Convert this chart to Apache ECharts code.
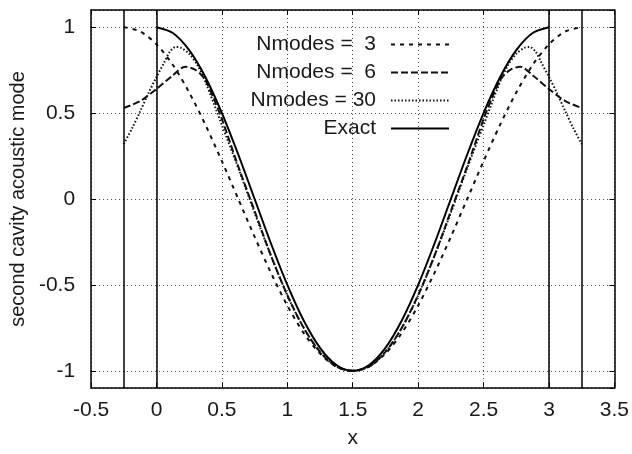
<!DOCTYPE html>
<html>
<head>
<meta charset="utf-8">
<script src="https://cdn.jsdelivr.net/npm/echarts@6/dist/echarts.min.js"></script>
<style>
  html, body { margin: 0; padding: 0; background: #fff; }
  #chart { width: 632px; height: 454px; }
</style>
</head>
<body>
<div id="chart"></div>
<script>
// values
const exactX = [0, 0.125, 0.25, 0.375, 0.5, 0.625, 0.75, 0.875, 1, 1.125, 1.25, 1.375, 1.5,
  1.625, 1.75, 1.875, 2, 2.125, 2.25, 2.375, 2.5, 2.625, 2.75, 2.875, 3]
const exactY = [1, 0.966, 0.866, 0.707, 0.5, 0.259, 0, -0.259, -0.5, -0.707, -0.866, -0.966, -1,
  -0.966, -0.866, -0.707, -0.5, -0.259, 0, 0.259, 0.5, 0.707, 0.866, 0.966, 1]

const n3X = [-0.25, -0.125, 0, 0.125, 0.25, 0.375, 0.5, 0.625, 0.75, 0.875, 1, 1.125, 1.25, 1.375, 1.5,
  1.625, 1.75, 1.875, 2, 2.125, 2.25, 2.375, 2.5, 2.625, 2.75, 2.875, 3, 3.125, 3.25]
const n3Y = [1, 0.975, 0.9, 0.78, 0.62, 0.43, 0.22, 0, -0.22, -0.43, -0.62, -0.78, -0.9, -0.975, -1,
  -0.975, -0.9, -0.78, -0.62, -0.43, -0.22, 0, 0.22, 0.43, 0.62, 0.78, 0.9, 0.975, 1]

const n6X = [-0.25, -0.125, 0, 0.125, 0.22, 0.29, 0.34, 0.375, 0.4375, 0.5, 0.625, 0.75, 0.875, 1, 1.125, 1.25, 1.375, 1.5,
  1.625, 1.75, 1.875, 2, 2.125, 2.25, 2.375, 2.5, 2.5625, 2.625, 2.66, 2.71, 2.78, 2.875, 3, 3.125, 3.25]
const n6Y = [0.53, 0.57, 0.64, 0.72, 0.77, 0.755, 0.725, 0.69, 0.585, 0.465, 0.19, -0.07, -0.33, -0.56, -0.75, -0.89, -0.975, -1,
  -0.975, -0.89, -0.75, -0.56, -0.33, -0.07, 0.19, 0.465, 0.585, 0.69, 0.725, 0.755, 0.77, 0.72, 0.64, 0.57, 0.53]

const n30X = [-0.25, -0.1875, -0.125, -0.0625, 0, 0.0625, 0.1, 0.147, 0.1875, 0.25, 0.3125, 0.375, 0.5, 0.625, 0.75, 0.875, 1, 1.125, 1.25, 1.375, 1.5,
  1.625, 1.75, 1.875, 2, 2.125, 2.25, 2.375, 2.5, 2.625, 2.6875, 2.75, 2.8125, 2.853, 2.9, 2.9375, 3, 3.0625, 3.125, 3.1875, 3.25]
const n30Y = [0.32, 0.41, 0.51, 0.615, 0.71, 0.8, 0.855, 0.885, 0.88, 0.845, 0.78, 0.68, 0.43, 0.18, -0.08, -0.33, -0.56, -0.75, -0.89, -0.975, -1,
  -0.975, -0.89, -0.75, -0.56, -0.33, -0.08, 0.18, 0.43, 0.68, 0.78, 0.845, 0.88, 0.885, 0.855, 0.8, 0.71, 0.615, 0.51, 0.41, 0.32]

const boundaryX = [-0.25, 0, 3, 3.25]
const names = ['Nmodes =  3', 'Nmodes =  6', 'Nmodes = 30', 'Exact']

const font = 'Liberation Sans'
const ink = '#1a1a1a'

function pairs (xs, ys) {
  return xs.map((x, i) => [x, ys[i]])
}

let gridLine = { show: true, lineStyle: { color: '#444', width: 1, type: [1, 3] } }
let frame = { onZero: false, lineStyle: { color: '#000', width: 1.5 } }
let innerTick = { show: true, inside: true, length: 5, lineStyle: { color: '#000' } }

function curve (name, xs, ys, style) {
  return {
    name: name,
    type: 'line',
    data: pairs(xs, ys),
    showSymbol: false,
    symbol: 'none',
    smooth: 0.3,
    lineStyle: style,
    itemStyle: { color: style.color }
  }
}

let option = {
  animation: false,
  backgroundColor: '#fff',
  grid: { left: 89, right: 17, top: 10, bottom: 66 },
  legend: {
    data: names,
    orient: 'vertical',
    align: 'right',
    right: 182,
    top: 34,
    padding: 0,
    itemGap: 7,
    itemWidth: 58,
    itemHeight: 14,
    itemStyle: { opacity: 0 },
    formatter: function (name) {
      return '{t|' + name + '}'
    },
    textStyle: {
      rich: {
        t: { fontFamily: font, fontSize: 21, color: ink, padding: [0, 10, 0, 0] }
      }
    }
  },
  xAxis: [{
    type: 'value',
    min: -0.5,
    max: 3.5,
    interval: 0.5,
    name: 'x',
    nameLocation: 'middle',
    nameGap: 40,
    nameTextStyle: { fontFamily: font, fontSize: 21, color: ink },
    axisLine: frame,
    axisTick: innerTick,
    axisLabel: { fontFamily: font, fontSize: 21, color: ink, margin: 12 },
    splitLine: gridLine
  }, {
    type: 'value',
    position: 'top',
    min: -0.5,
    max: 3.5,
    interval: 0.5,
    axisLine: frame,
    axisTick: innerTick,
    axisLabel: { show: false },
    splitLine: { show: false }
  }],
  yAxis: [{
    type: 'value',
    min: -1.1,
    max: 1.1,
    name: 'second cavity acoustic mode',
    nameLocation: 'middle',
    nameRotate: 90,
    nameGap: 60,
    nameTextStyle: { fontFamily: font, fontSize: 20, color: ink },
    axisLine: frame,
    axisTick: innerTick,
    axisLabel: { fontFamily: font, fontSize: 21, color: ink, margin: 16, showMinLabel: false, showMaxLabel: false },
    splitLine: gridLine
  }, {
    type: 'value',
    position: 'right',
    min: -1.1,
    max: 1.1,
    axisLine: frame,
    axisTick: innerTick,
    axisLabel: { show: false },
    splitLine: { show: false }
  }],
  series: [
    curve(names[0], n3X, n3Y, { color: '#111', width: 2, type: [4, 5] }),
    curve(names[1], n6X, n6Y, { color: '#111', width: 2, type: [7, 3] }),
    curve(names[2], n30X, n30Y, { color: '#111', width: 2, type: [1.5, 2] }),
    curve(names[3], exactX, exactY, { color: '#000', width: 2, type: 'solid' }),
    {
      name: 'bounds',
      type: 'line',
      data: [],
      silent: true,
      markLine: {
        symbol: 'none',
        silent: true,
        label: { show: false },
        lineStyle: { color: '#000', width: 1.5, type: 'solid' },
        data: boundaryX.map(v => ({ xAxis: v }))
      }
    }
  ]
}

let chart = echarts.init(document.getElementById('chart'))
chart.setOption(option)
</script>
</body>
</html>
